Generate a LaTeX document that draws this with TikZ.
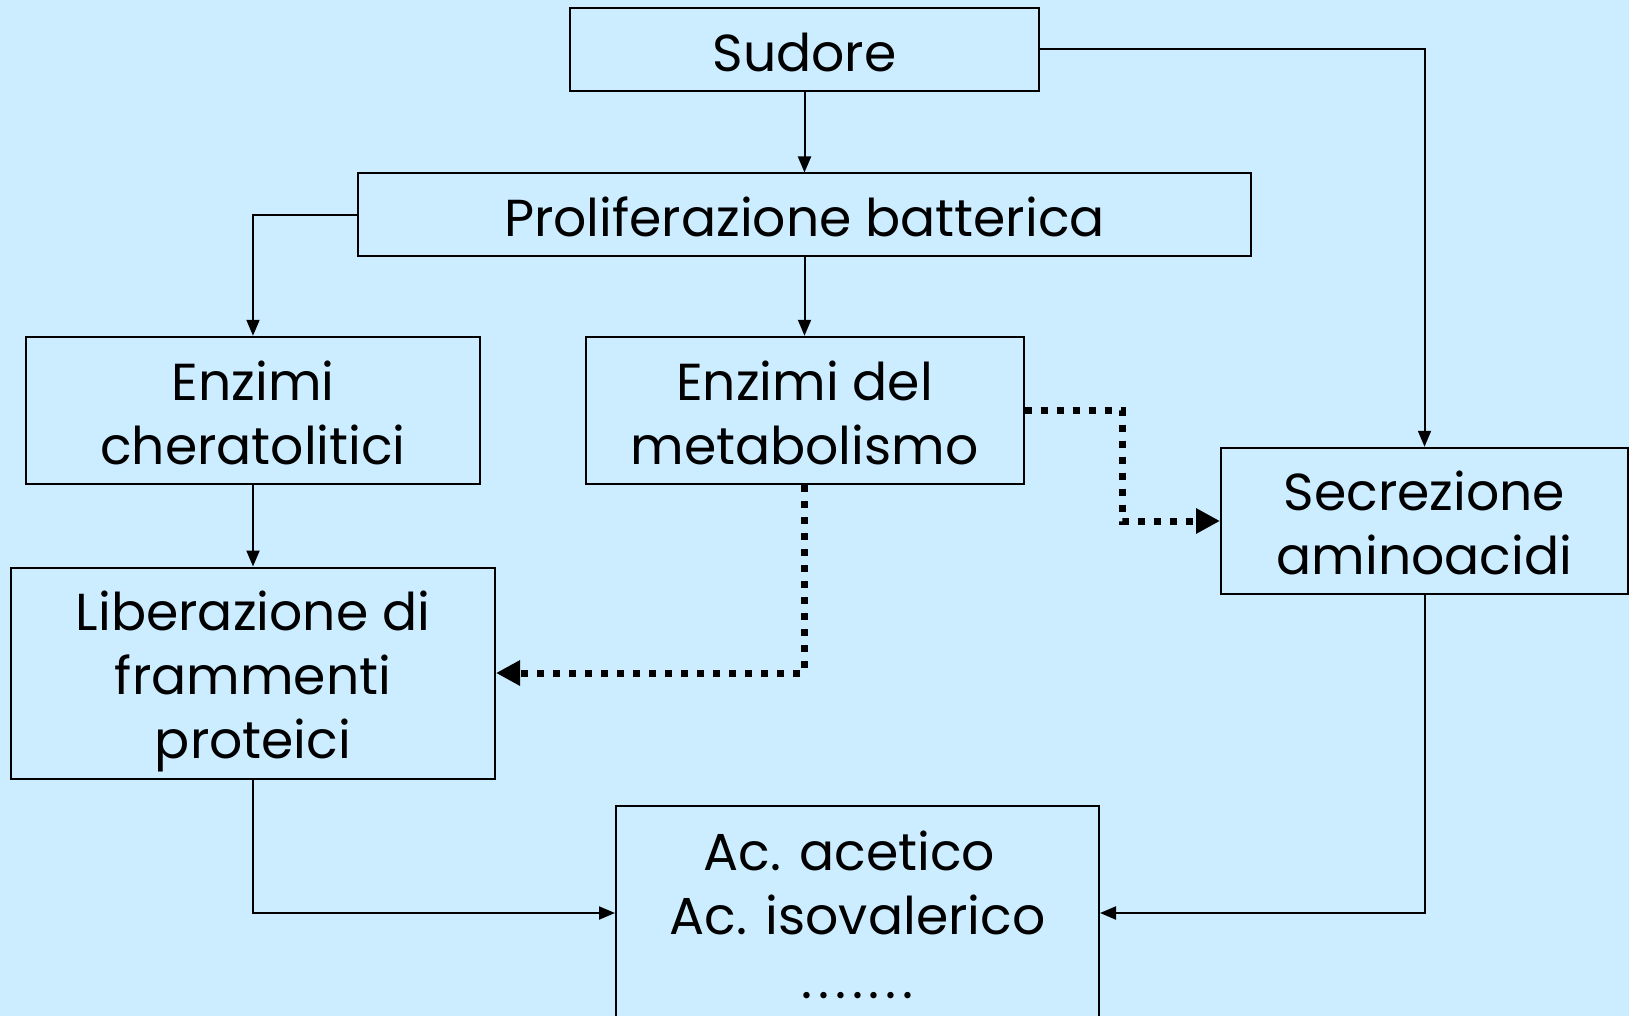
\documentclass[tikz,border=0pt]{standalone}
\usepackage{fontspec}
\setmainfont{Poppins}
\usetikzlibrary{arrows.meta}
\definecolor{bgblue}{RGB}{204,236,255}
\newcommand\boxlines[1]{\raisebox{-9pt}[\height][\depth]{\begin{tabular}{@{}c@{}}#1\end{tabular}}}
\begin{document}
\begin{tikzpicture}[x=1pt,y=-1pt,
  box/.style={draw=black, line width=2pt, inner sep=0pt, align=center,
    font=\fontsize{52}{64}\selectfont},
  arr/.style={line width=2pt, -{Triangle[length=16pt,width=13pt]}},
  dotarr/.style={line width=7pt, dash pattern=on 7pt off 9pt, -{Triangle[length=24pt,width=24pt]}}]
\fill[bgblue] (0,0) rectangle (1629,1016);
\useasboundingbox (0,0) rectangle (1629,1016);
\clip (0,0) rectangle (1629,1016);
\node[box, minimum width=469pt, minimum height=83pt] (sud) at (804.5,49.5) {\boxlines{Sudore}};
\node[box, minimum width=893pt, minimum height=83pt] (pro) at (804.5,215) {\boxlines{Proliferazione batterica}};
\node[box, minimum width=454pt, minimum height=147.5pt] (enc) at (253,410.5) {\boxlines{Enzimi\\cheratolitici}};
\node[box, minimum width=438pt, minimum height=147.5pt] (enm) at (804.5,410.5) {\boxlines{Enzimi del\\metabolismo}};
\node[box, minimum width=407pt, minimum height=146.5pt] (sec) at (1424.5,521) {\boxlines{Secrezione\\aminoacidi}};
\node[box, minimum width=484pt, minimum height=211pt] (lib) at (253,673) {\boxlines{Liberazione di\\frammenti\\proteici}};
\node[box, minimum width=483pt, minimum height=214pt] (ac) at (857.5,913) {\boxlines{Ac. acetico\kern16pt\\Ac. isovalerico\\.\kern6pt.\kern6pt.\kern6pt.\kern6pt.\kern6pt.\kern6pt.}};
\draw[arr] (sud) -- (pro);
\draw[arr] (sud.east) -| (sec.north);
\draw[arr] (pro.west) -| (enc.north);
\draw[arr] (pro.south) -- (enm.north);
\draw[arr] (enc) -- (lib);
\draw[dotarr] (enm.east) -- ++(98,0) |- (sec.west);
\draw[dotarr] (enm.south) |- (lib.east);
\draw[arr] (lib.south) |- (ac.west);
\draw[arr] (sec.south) |- (ac.east);
\end{tikzpicture}
\end{document}
